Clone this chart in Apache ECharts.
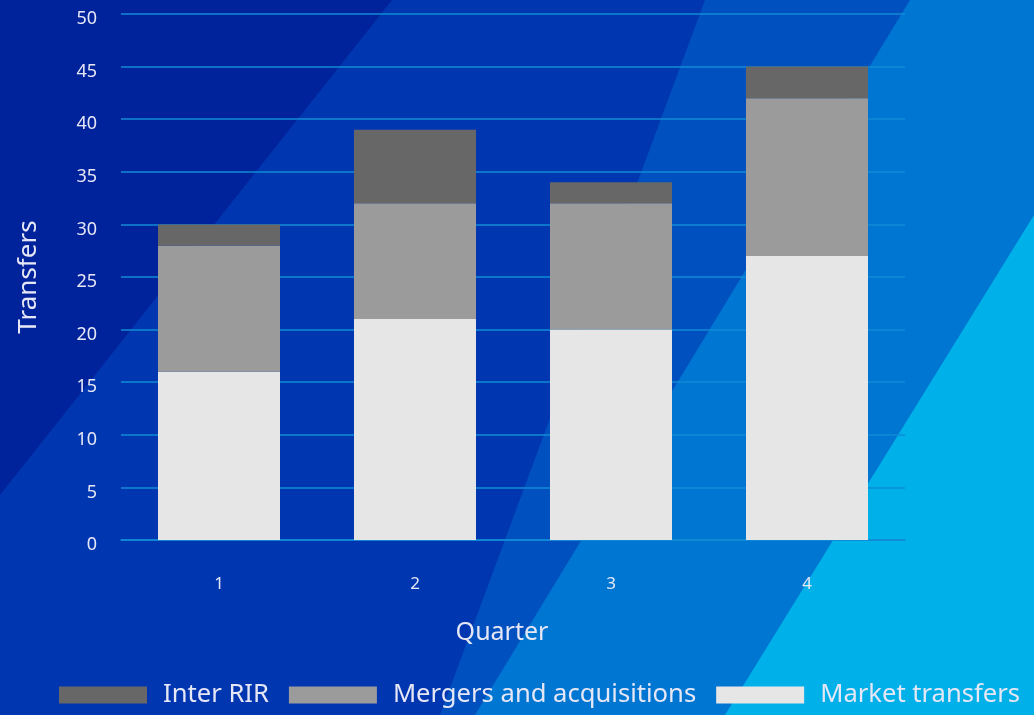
<!DOCTYPE html>
<html>
<head>
<meta charset="utf-8">
<script src="https://cdn.jsdelivr.net/npm/echarts@6/dist/echarts.min.js"></script>
<style>
  html, body { margin: 0; padding: 0; background: #00239b; }
  #chart { width: 1034px; height: 715px; }
</style>
</head>
<body>
<div id="chart"></div>
<script>
// quarters on the x axis
const quarters = ["1", "2", "3", "4"];
// stacked from bottom to top
const marketTransfers = [16, 21, 20, 27];
const mergersAcquisitions = [12, 11, 12, 15];
const interRIR = [2, 7, 2, 3];
const legendOrder = ["Inter RIR", "Mergers and acquisitions", "Market transfers"];

const textColor = "#e6e7f6";
const font = "Noto Sans";

// diagonal background bands
function band(points, color) {
  return { type: "polygon", z: -10, silent: true, shape: { points: points }, style: { fill: color } };
}
const bg = [
  band([[0, 0], [1034, 0], [1034, 715], [0, 715]], "#00239b"),
  band([[392, 0], [1034, 0], [1034, 715], [0, 715], [0, 495]], "#0036b0"),
  band([[705, 0], [1034, 0], [1034, 715], [440, 715]], "#0050bf"),
  band([[910, 0], [1034, 0], [1034, 715], [475, 715]], "#0076d3"),
  band([[1034, 215], [1034, 715], [725, 715]], "#00b0e8"),
];

function barSeries(name, data, color) {
  return {
    name: name,
    type: "bar",
    stack: "total",
    data: data,
    barWidth: 122,
    itemStyle: { color: color },
    emphasis: { disabled: true }
  };
}

const chart = echarts.init(document.getElementById("chart"));
chart.setOption({
  animation: false,
  backgroundColor: "transparent",
  graphic: bg,
  textStyle: { fontFamily: font },
  grid: { left: 121, right: 129, top: 14, bottom: 175 },
  legend: {
    data: legendOrder,
    left: 54,
    top: 677,
    itemWidth: 88,
    itemHeight: 17,
    itemGap: 20,
    icon: "rect",
    textStyle: { color: textColor, fontSize: 25.6, fontFamily: font, padding: [0, 0, 0, 11] }
  },
  xAxis: {
    type: "category",
    data: quarters,
    name: "Quarter",
    nameLocation: "middle",
    nameGap: 80,
    nameTextStyle: { color: textColor, fontSize: 25, padding: [0, 22, 0, 0] },
    axisLine: { show: true, lineStyle: { color: "#118bd6", width: 1.5 } },
    axisTick: { show: false },
    axisLabel: { color: textColor, fontSize: 17, margin: 36 }
  },
  yAxis: {
    type: "value",
    min: 0,
    max: 50,
    interval: 5,
    name: "Transfers",
    nameLocation: "middle",
    nameGap: 79,
    nameTextStyle: { color: textColor, fontSize: 26 },
    axisLine: { show: false },
    axisTick: { show: false },
    axisLabel: { color: textColor, fontSize: 18, margin: 24, verticalAlign: "top", lineHeight: 10 },
    splitLine: { lineStyle: { color: "#118bd6", width: 1.5 } }
  },
  series: [
    barSeries("Market transfers", marketTransfers, "#e6e6e6"),
    barSeries("Mergers and acquisitions", mergersAcquisitions, "#9b9b9b"),
    barSeries("Inter RIR", interRIR, "#676767")
  ]
});
</script>
</body>
</html>
